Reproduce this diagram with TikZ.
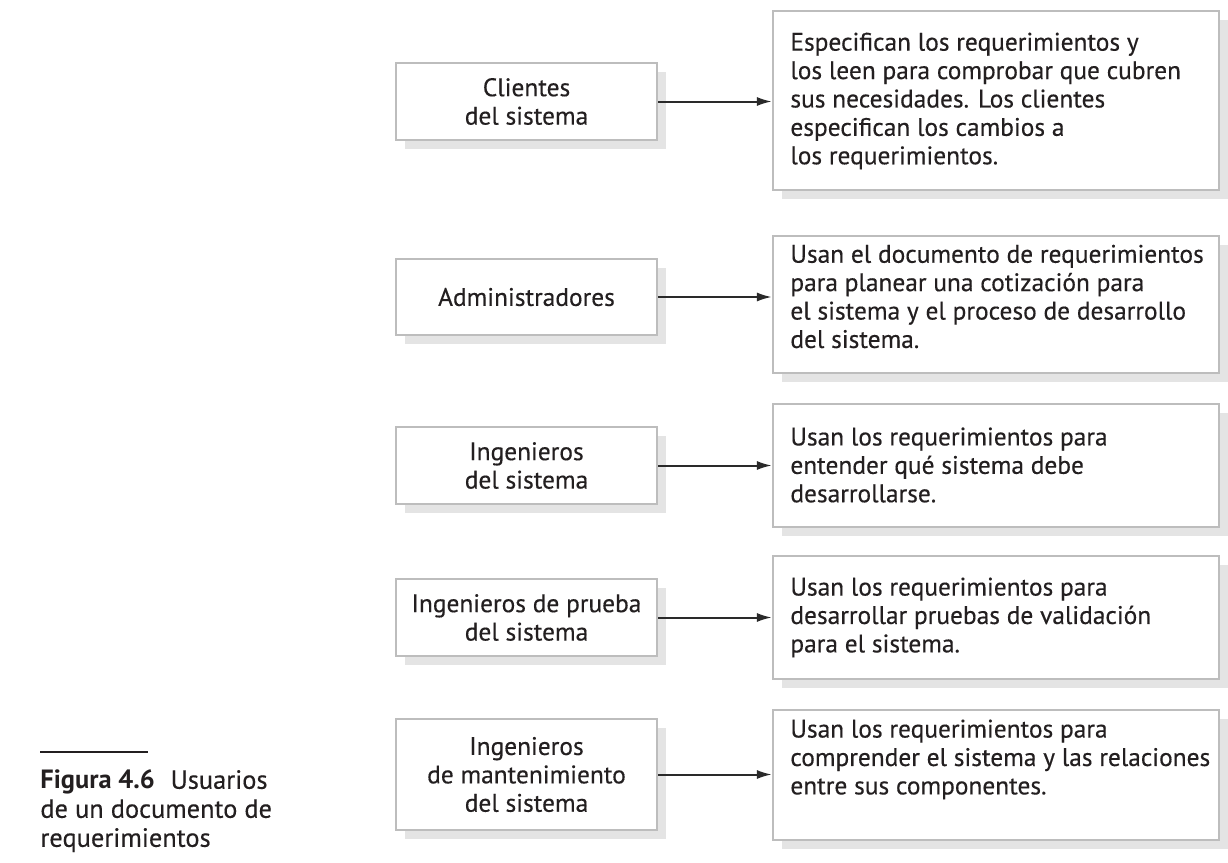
\documentclass[tikz,border=0pt]{standalone}
\usepackage{fontspec}
\setmainfont{PT Sans}
\newfontfamily\bodyfont{PT Sans}[FakeBold=0.35]
\usetikzlibrary{arrows.meta,shadows}
\definecolor{boxline}{HTML}{BDBDBD}
\definecolor{shadowc}{HTML}{E4E4E4}
\definecolor{txt}{HTML}{231F20}
\definecolor{arr}{HTML}{2A2A2A}
\tikzset{
  base/.style={draw=boxline, line width=1.1pt, fill=white, inner sep=0pt,
    drop shadow={shadow xshift=4.5pt, shadow yshift=-4.5pt, fill=shadowc, opacity=1}},
  lbox/.style={base, minimum width=130.5pt, align=center, text=txt,
    font=\bodyfont\fontsize{12.7}{14.2}\selectfont},
  rbox/.style={base, minimum width=223pt},
  rtext/.style={anchor=west, align=left, inner sep=0pt, text=txt,
    font=\bodyfont\fontsize{12.7}{14.2}\selectfont},
  link/.style={draw=arr, line width=1pt, -{Latex[length=7.5pt,width=4.5pt]}},
  captxt/.style={anchor=west, align=left, inner sep=0pt, text=txt,
    font=\fontsize{13.2}{14.5}\selectfont}
}
\begin{document}
\begin{tikzpicture}[x=0.5pt,y=-0.5pt]
\useasboundingbox (0,0) rectangle (1228,863);
% left boxes
\node[lbox, minimum height=38.5pt] (l1) at (526.5,101.5) {Clientes\\del sistema};
\node[lbox, minimum height=38pt] (l2) at (526.5,297) {Administradores};
\node[lbox, minimum height=38.5pt] (l3) at (526.5,465.5) {Ingenieros\\del sistema};
\node[lbox, minimum height=38.5pt] (l4) at (526.5,617.5) {Ingenieros de prueba\\del sistema};
\node[lbox, minimum height=55.5pt] (l5) at (526.5,774.5) {Ingenieros\\de mantenimiento\\del sistema};
% right boxes
\node[rbox, minimum height=89.5pt] (r1) at (996,100.5) {};
\node[rbox, minimum height=68.5pt] (r2) at (996,304.5) {};
\node[rbox, minimum height=61.5pt] (r3) at (996,465.5) {};
\node[rbox, minimum height=61.5pt] (r4) at (996,617.5) {};
\node[rbox, minimum height=65pt] (r5) at (996,775) {};
% right texts
\node[rtext] (t1) at (790,101) {Especifican los requerimientos y\\los leen para comprobar que cubren\\sus necesidades. Los clientes\\especifican los cambios a\\los requerimientos.};
\node[rtext] (t2) at (790,296.5) {Usan el documento de requerimientos\\para planear una cotización para\\el sistema y el proceso de desarrollo\\del sistema.};
\node[rtext] (t3) at (790,465) {Usan los requerimientos para\\entender qué sistema debe\\desarrollarse.};
\node[rtext] (t4) at (790,617.5) {Usan los requerimientos para\\desarrollar pruebas de validación\\para el sistema.};
\node[rtext] (t5) at (790,759.5) {Usan los requerimientos para\\comprender el sistema y las relaciones\\entre sus componentes.};
% connectors
\foreach \i in {1,...,5} {
  \draw[link] (l\i.east) -- (l\i.east -| r\i.west);
}
% caption
\coordinate (c1) at (40,752);
\coordinate (c2) at (148,752);
\draw[line width=0.8pt, draw=txt] (c1) -- (c2);
\node[captxt] (cap) at (40,811) {\textbf{Figura 4.6}\hspace{0.6em}{\bodyfont Usuarios}\\{\bodyfont de un documento de}\\{\bodyfont requerimientos}};
\end{tikzpicture}
\end{document}
